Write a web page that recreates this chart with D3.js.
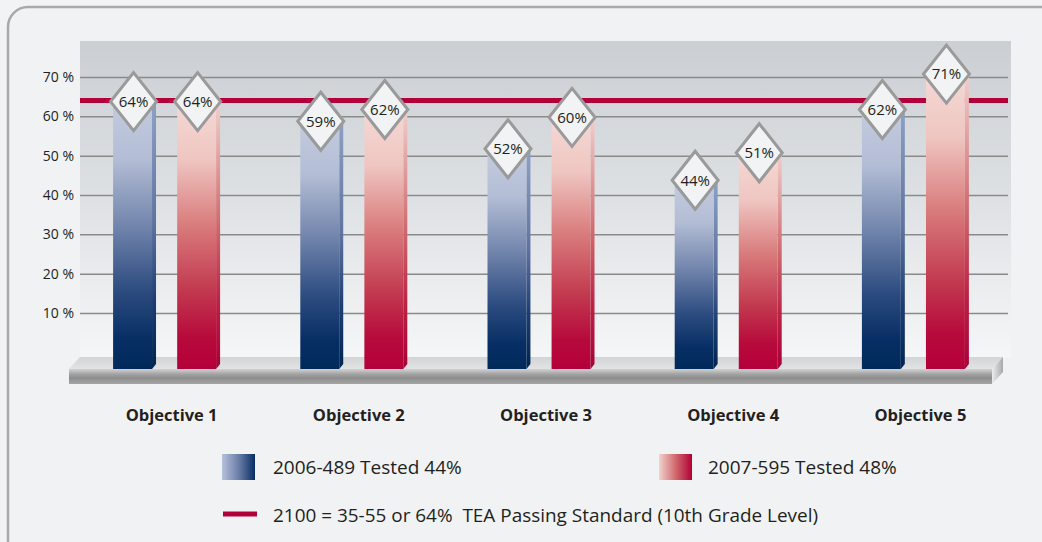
<!DOCTYPE html>
<html>
<head>
<meta charset="utf-8">
<script src="https://cdn.jsdelivr.net/npm/d3@7"></script>
<style>
  html, body { margin: 0; padding: 0; background: #f2f3f5; }
  svg { display: block; font-family: "Open Sans", "Noto Sans", sans-serif; }
</style>
</head>
<body>
<svg id="chart" width="1042" height="542"></svg>
<script>
// ---------- data ----------
const objectives = ["Objective 1", "Objective 2", "Objective 3", "Objective 4", "Objective 5"];
const seriesKeys = ["2006", "2007"];
const seriesLabels = ["2006-489 Tested 44%", "2007-595 Tested 48%"];
const values2006 = [64, 59, 52, 44, 62];
const values2007 = [64, 62, 60, 51, 71];
const standardValue = 64;
const standardLabel = "2100 = 35-55 or 64%  TEA Passing Standard (10th Grade Level)";
const yTicks = [10, 20, 30, 40, 50, 60, 70];

// ---------- setup ----------
const svg = d3.select("#chart");
const defs = svg.append("defs");

function linGrad(id, stops, vertical) {
  const g = defs.append("linearGradient").attr("id", id)
    .attr("x1", 0).attr("y1", 0)
    .attr("x2", vertical ? 0 : 1).attr("y2", vertical ? 1 : 0);
  stops.forEach(s => g.append("stop").attr("offset", s[0]).attr("stop-color", s[1]));
}
linGrad("bgGrad", [[0, "#cbcfd3"], [0.45, "#dcdfe2"], [1, "#f5f6f7"]], true);
linGrad("blueBar", [[0, "#c2cadd"], [0.2, "#b3bdd5"], [0.45, "#7386ad"], [0.7, "#2d4c80"], [0.88, "#082f65"], [1, "#00295b"]], true);
linGrad("blueSide", [[0, "#8da0c4"], [0.45, "#5f739f"], [0.75, "#1c3d72"], [1, "#00254f"]], true);
linGrad("redBar", [[0, "#f4d7d3"], [0.2, "#efc6c1"], [0.45, "#d97c7d"], [0.7, "#c2394f"], [0.88, "#b70a3c"], [1, "#b4003a"]], true);
linGrad("redSide", [[0, "#f0cfcb"], [0.45, "#d06b6f"], [0.75, "#bb2244"], [1, "#a80036"]], true);
linGrad("blueSwatch", [[0, "#b7c1da"], [0.5, "#6b7fa8"], [1, "#072d63"]], false);
linGrad("redSwatch", [[0, "#f2d2ce"], [0.5, "#d06a6e"], [1, "#b30036"]], false);
linGrad("floorTop", [[0, "#d3d4d6"], [1, "#e2e3e5"]], true);
linGrad("floorFront", [[0, "#d2d2d2"], [0.35, "#a2a2a2"], [0.6, "#8d8d8d"], [1, "#a6a6a6"]], true);
linGrad("floorSide", [[0, "#ececec"], [1, "#a8a8a8"]], false);

const fills = { "2006": ["url(#blueBar)", "url(#blueSide)", "#1d3f7c"], "2007": ["url(#redBar)", "url(#redSide)", "#c4283f"] };

// ---------- frame ----------
svg.append("rect").attr("x", 8).attr("y", 7).attr("width", 1100).attr("height", 600)
  .attr("rx", 20).attr("fill", "#f1f2f4").attr("stroke", "#a9a9a9").attr("stroke-width", 2.5);

// ---------- scales ----------
const plotLeft = 80, plotRight = 1008, plotTop = 41, wallBottom = 358;
const floorFrontTop = 369, floorFrontBottom = 384, floorLeft = 69, floorRight = 992, depth = 11;
const y = d3.scaleLinear().domain([0, 70]).range([352.3, 77]);
const x0 = d3.scaleBand().domain(objectives).range([73, 1009]);
const x1 = d3.scaleBand().domain(seriesKeys).range([-53.5, 53.5]).paddingInner(0.33);
const sideW = 4, barDrop = 6;

// ---------- back wall ----------
svg.append("rect").attr("x", plotLeft).attr("y", plotTop)
  .attr("width", plotRight - plotLeft + 3).attr("height", wallBottom - plotTop)
  .attr("fill", "url(#bgGrad)");

const yAxis = d3.axisLeft(y).tickValues(yTicks).tickSize(-(plotRight - plotLeft))
  .tickPadding(6).tickFormat(d => d + " %");
const gAxis = svg.append("g").attr("transform", `translate(${plotLeft},0)`).call(yAxis);
gAxis.select(".domain").remove();
gAxis.selectAll(".tick line").attr("stroke", "#8a8a8a").attr("stroke-width", 1.5);
gAxis.selectAll(".tick text").attr("fill", "#231f20").style("font-size", "14px")
  .style("font-family", "'Open Sans', sans-serif");

// standard line
svg.append("line").attr("x1", plotLeft).attr("x2", plotRight)
  .attr("y1", y(standardValue)).attr("y2", y(standardValue))
  .attr("stroke", "#b4003a").attr("stroke-width", 5);

// ---------- floor ----------
svg.append("polygon")
  .attr("points", [[floorLeft, floorFrontTop], [floorLeft + depth, floorFrontTop - 12], [floorRight + depth, floorFrontTop - 12], [floorRight, floorFrontTop]].join(" "))
  .attr("fill", "url(#floorTop)");
svg.append("rect").attr("x", floorLeft).attr("y", floorFrontTop)
  .attr("width", floorRight - floorLeft).attr("height", floorFrontBottom - floorFrontTop)
  .attr("fill", "url(#floorFront)");
svg.append("polygon")
  .attr("points", [[floorRight, floorFrontTop], [floorRight + depth, floorFrontTop - 12], [floorRight + depth, floorFrontBottom - 12], [floorRight, floorFrontBottom]].join(" "))
  .attr("fill", "url(#floorSide)");

// ---------- bars ----------
const rows = objectives.map((o, i) => ({ obj: o, vals: [
  { key: "2006", v: values2006[i] }, { key: "2007", v: values2007[i] }] }));

const groups = svg.append("g").selectAll("g").data(rows).join("g")
  .attr("transform", d => `translate(${x0(d.obj) + x0.bandwidth() / 2},0)`);

const bars = groups.selectAll("g.bar").data(d => d.vals).join("g").attr("class", "bar");
const frontW = x1.bandwidth() - sideW;
bars.append("polygon")
  .attr("points", d => {
    const xl = x1(d.key) + frontW, top = y(d.v) + barDrop;
    return [[xl, top], [xl + sideW, top - 4], [xl + sideW, floorFrontTop - 5], [xl, floorFrontTop]].join(" ");
  })
  .attr("fill", d => fills[d.key][1]);
bars.append("rect")
  .attr("x", d => x1(d.key))
  .attr("y", d => y(d.v) + barDrop)
  .attr("width", frontW)
  .attr("height", d => floorFrontTop - (y(d.v) + barDrop))
  .attr("fill", d => fills[d.key][0]);
bars.append("polygon")
  .attr("points", d => {
    const xl = x1(d.key) + 1, top = y(d.v) + barDrop;
    return [[xl, top + 2], [xl + 8, top + 2], [xl + 4, top - 4]].join(" ");
  })
  .attr("fill", d => fills[d.key][2]);

// diamonds
const lab = bars.append("g")
  .attr("transform", d => `translate(${x1(d.key) + frontW / 2 + 1},${y(d.v) + 1})`);
lab.append("polygon")
  .attr("points", "0,-29 23,0 0,29 -23,0")
  .attr("fill", "#f2f3f5").attr("stroke", "#9a9a9a").attr("stroke-width", 3)
  .attr("stroke-linejoin", "miter");
lab.append("text").attr("text-anchor", "middle").attr("dy", "0.36em")
  .style("font-size", "15px").attr("fill", "#231f20")
  .text(d => d.v + "%");

// x labels
svg.append("g").selectAll("text").data(objectives).join("text")
  .attr("x", d => x0(d) + x0.bandwidth() / 2 + 5)
  .attr("y", 421)
  .attr("text-anchor", "middle")
  .style("font-size", "16.5px").style("font-weight", "bold")
  .attr("fill", "#231f20")
  .text(d => d);

// ---------- legend ----------
const legend = svg.append("g");
const swatchX = [222, 659], textX = [273, 708];
seriesKeys.forEach((k, i) => {
  legend.append("rect").attr("x", swatchX[i]).attr("y", 454).attr("width", 33).attr("height", 26)
    .attr("fill", i === 0 ? "url(#blueSwatch)" : "url(#redSwatch)");
  legend.append("text").attr("x", textX[i]).attr("y", 474)
    .style("font-size", "19px").attr("fill", "#231f20")
    .text(seriesLabels[i]);
});
legend.append("line").attr("x1", 223).attr("x2", 257).attr("y1", 514).attr("y2", 514)
  .attr("stroke", "#b4003a").attr("stroke-width", 5);
legend.append("text").attr("x", 273).attr("y", 522)
  .style("font-size", "19px").style("white-space", "pre").attr("fill", "#231f20")
  .attr("textLength", 545).attr("lengthAdjust", "spacingAndGlyphs")
  .text(standardLabel);
</script>
</body>
</html>
